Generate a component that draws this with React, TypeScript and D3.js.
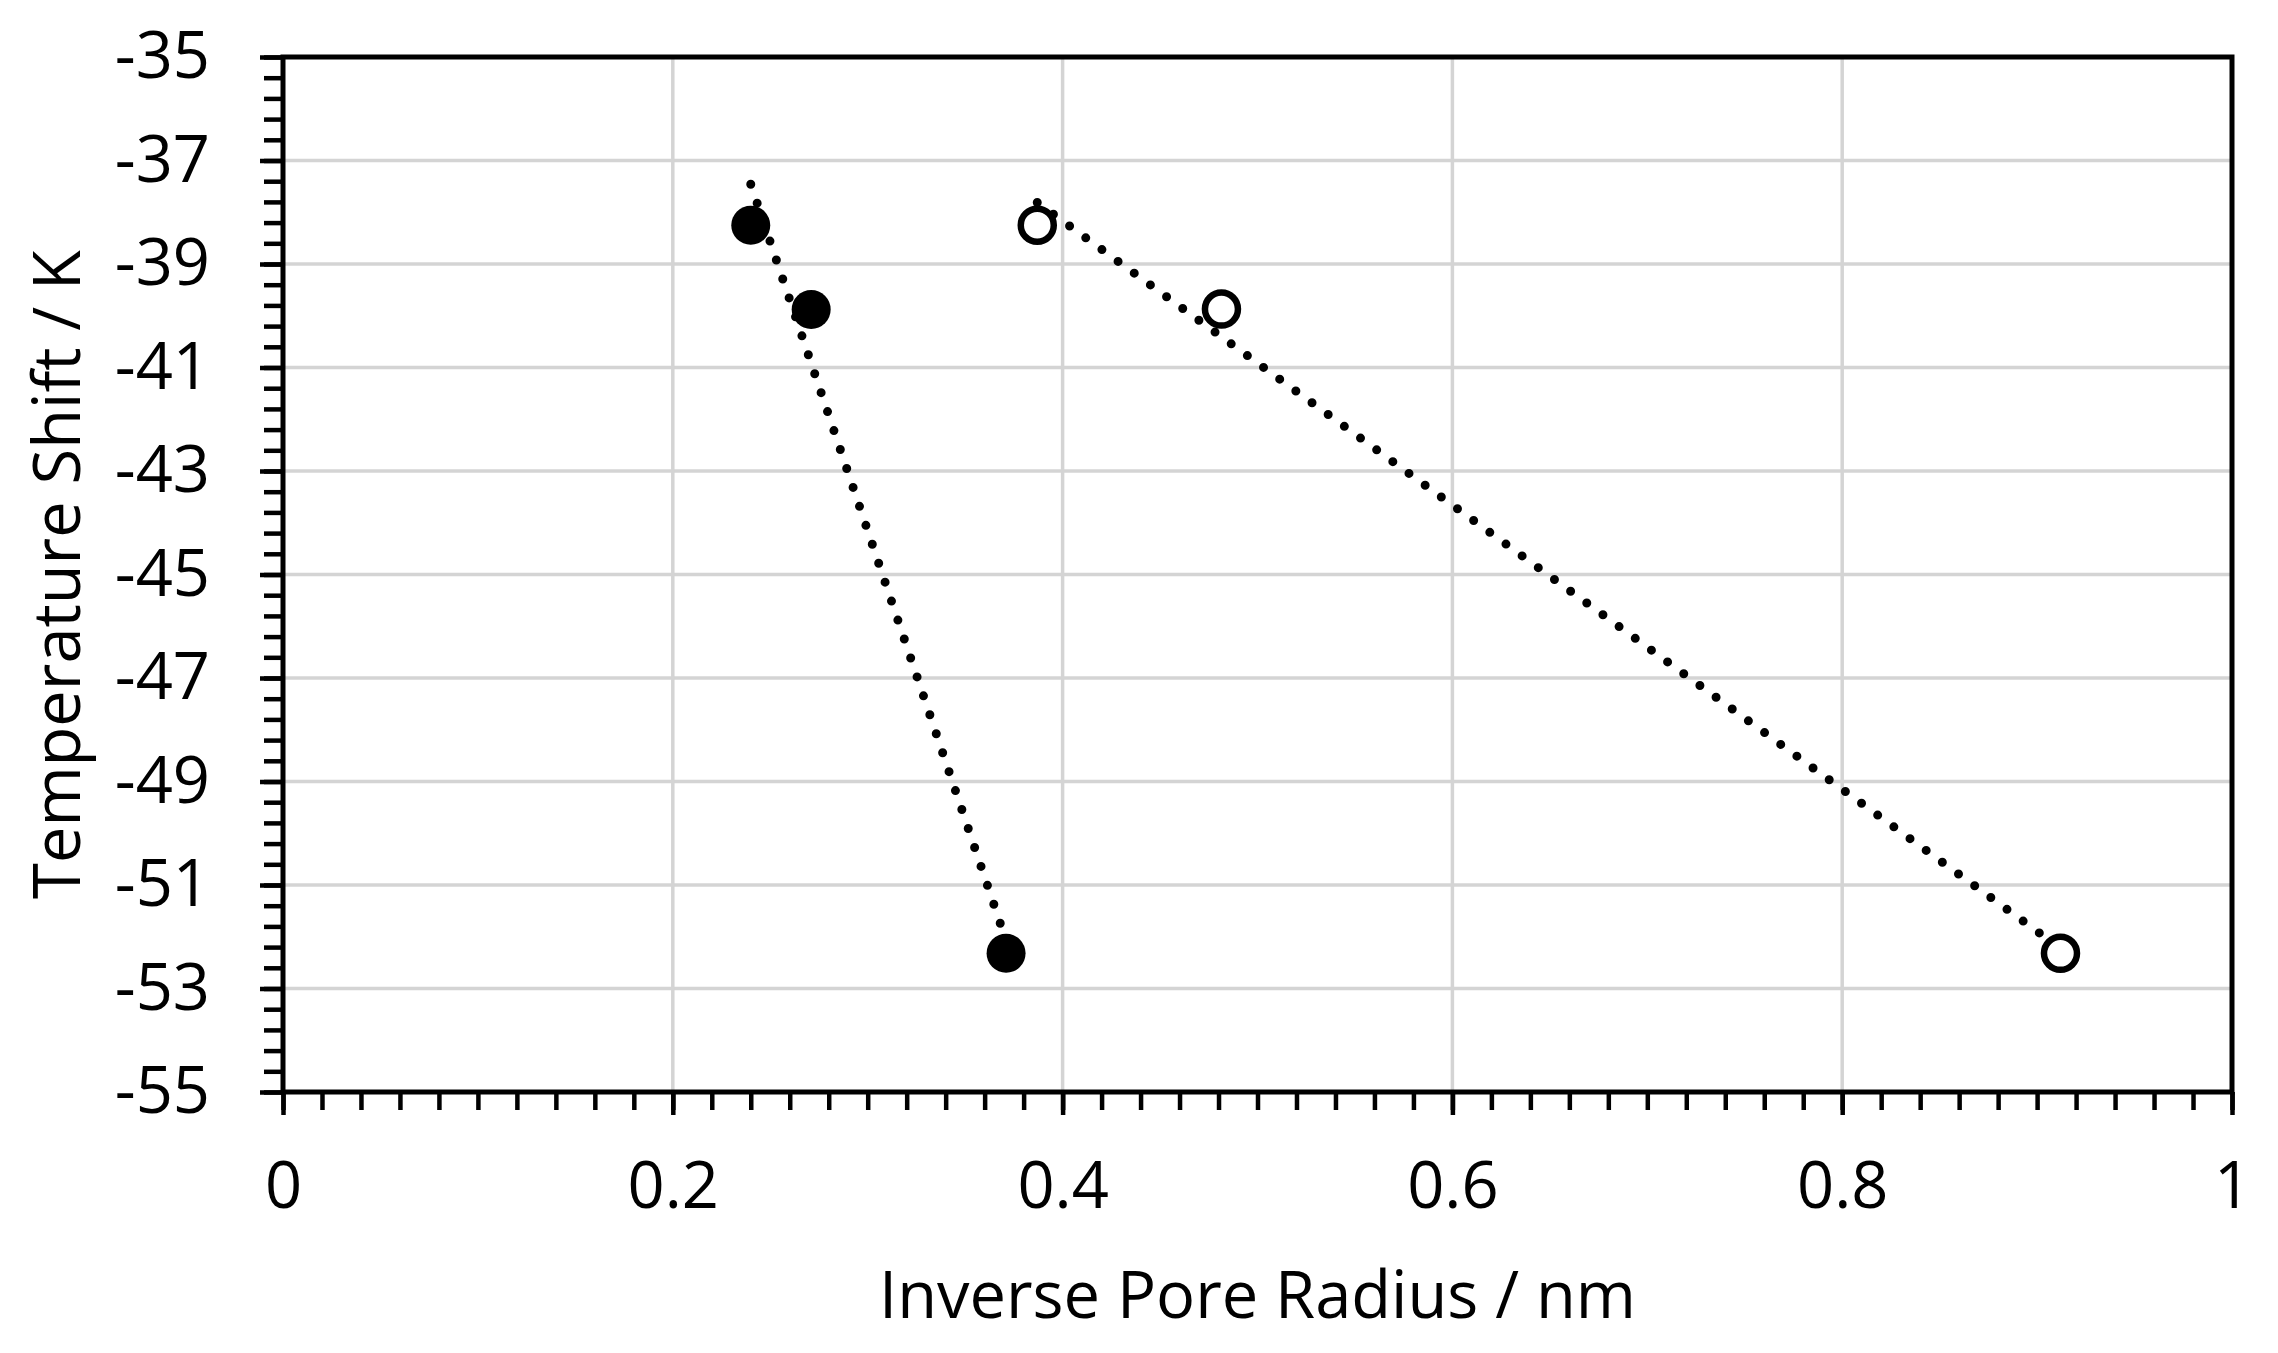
import React, { useRef, useEffect } from "react";
import * as d3 from "d3";

// measured points (inverse pore radius in 1/nm, temperature shift in K)
const filledX = [0.24, 0.271, 0.371];
const filledY = [-38.25, -39.88, -52.32];
const openX = [0.387, 0.4815, 0.912];
const openY = [-38.25, -39.87, -52.32];

const xTicks = [0, 0.2, 0.4, 0.6, 0.8, 1];
const yTicks = [-35, -37, -39, -41, -43, -45, -47, -49, -51, -53, -55];

const xTitle = "Inverse Pore Radius / nm";
const yTitle = "Temperature Shift / K";

// least squares fit, drawn over the range of the points
function fitLine(xs: number[], ys: number[]) {
    const mx = d3.mean(xs) as number;
    const my = d3.mean(ys) as number;
    let sxy = 0;
    let sxx = 0;
    xs.forEach((x, i) => {
        sxy += (x - mx) * (ys[i] - my);
        sxx += (x - mx) * (x - mx);
    });
    const slope = sxy / sxx;
    const x0 = d3.min(xs) as number;
    const x1 = d3.max(xs) as number;
    return [
        [x0, my + slope * (x0 - mx)],
        [x1, my + slope * (x1 - mx)],
    ];
}

const App: React.FC = () => {
    const svgRef = useRef<SVGSVGElement | null>(null);

    useEffect(() => {
        const width = 2278;
        const height = 1353;
        const left = 283;
        const right = 2232;
        const top = 57;
        const bottom = 1092;
        const font = "'Open Sans', 'Noto Sans', sans-serif";
        const fontSize = 65;

        const svg = d3.select(svgRef.current).attr("width", width).attr("height", height);
        svg.selectAll("*").remove();
        svg.append("rect").attr("width", width).attr("height", height).attr("fill", "#fff");

        const x = d3.scaleLinear().domain([0, 1]).range([left, right]);
        const y = d3.scaleLinear().domain([-55, -35]).range([bottom, top]);

        // gridlines
        const grid = svg.append("g").attr("stroke", "#d4d4d4").attr("stroke-width", 3.5);
        grid.selectAll("line.h")
            .data(yTicks.slice(1, -1))
            .enter()
            .append("line")
            .attr("x1", left)
            .attr("x2", right)
            .attr("y1", (d) => y(d))
            .attr("y2", (d) => y(d));
        grid.selectAll("line.v")
            .data(xTicks.slice(1, -1))
            .enter()
            .append("line")
            .attr("y1", top)
            .attr("y2", bottom)
            .attr("x1", (d) => x(d))
            .attr("x2", (d) => x(d));

        // dotted trend lines
        const line = d3
            .line<number[]>()
            .x((d) => x(d[0]))
            .y((d) => y(d[1]));
        [fitLine(filledX, filledY), fitLine(openX, openY)].forEach((pts) => {
            svg.append("path")
                .attr("d", line(pts))
                .attr("fill", "none")
                .attr("stroke", "#000")
                .attr("stroke-width", 9)
                .attr("stroke-linecap", "round")
                .attr("stroke-dasharray", "0 20");
        });

        // markers
        svg.selectAll("circle.filled")
            .data(filledX)
            .enter()
            .append("circle")
            .attr("cx", (d) => x(d))
            .attr("cy", (d, i) => y(filledY[i]))
            .attr("r", 19.5)
            .attr("fill", "#000");
        svg.selectAll("circle.open")
            .data(openX)
            .enter()
            .append("circle")
            .attr("cx", (d) => x(d))
            .attr("cy", (d, i) => y(openY[i]))
            .attr("r", 16.5)
            .attr("fill", "#fff")
            .attr("stroke", "#000")
            .attr("stroke-width", 6.5);

        // minor ticks
        const xMinor = d3.range(0, 51).map((i) => i * 0.02);
        const yMinor = d3.range(0, 51).map((i) => -55 + i * 0.4);
        svg.append("g")
            .attr("transform", `translate(0, ${bottom})`)
            .call(d3.axisBottom(x).tickValues(xMinor).tickSize(18).tickFormat(() => ""))
            .call((g) => g.select(".domain").remove())
            .call((g) => g.selectAll("line").attr("stroke-width", 4.5));
        svg.append("g")
            .attr("transform", `translate(${left}, 0)`)
            .call(d3.axisLeft(y).tickValues(yMinor).tickSize(19).tickFormat(() => ""))
            .call((g) => g.select(".domain").remove())
            .call((g) => g.selectAll("line").attr("stroke-width", 4.5));

        // major ticks with labels
        const xAxis = svg
            .append("g")
            .attr("transform", `translate(0, ${bottom})`)
            .call(d3.axisBottom(x).tickValues(xTicks).tickSize(23).tickPadding(47).tickFormat(d3.format("")));
        const yAxis = svg
            .append("g")
            .attr("transform", `translate(${left}, 0)`)
            .call(d3.axisLeft(y).tickValues(yTicks).tickSize(23).tickPadding(50).tickFormat(d3.format("")));
        [xAxis, yAxis].forEach((g) => {
            g.select(".domain").remove();
            g.selectAll("line").attr("stroke-width", 4.5);
            g.selectAll("text")
                .attr("font-family", font)
                .attr("font-size", fontSize)
                .attr("fill", "#000");
        });
        yAxis.selectAll("text").text((d: any) => String(d).replace("−", "-"));

        // plot frame
        svg.append("rect")
            .attr("x", left)
            .attr("y", top)
            .attr("width", right - left)
            .attr("height", bottom - top)
            .attr("fill", "none")
            .attr("stroke", "#000")
            .attr("stroke-width", 5);

        // axis titles
        svg.append("text")
            .attr("x", (left + right) / 2)
            .attr("y", 1318)
            .attr("text-anchor", "middle")
            .attr("font-family", font)
            .attr("font-size", fontSize)
            .text(xTitle);
        svg.append("text")
            .attr("transform", `translate(80, ${(top + bottom) / 2}) rotate(-90)`)
            .attr("text-anchor", "middle")
            .attr("font-family", font)
            .attr("font-size", fontSize)
            .text(yTitle);
    }, []);

    return <svg ref={svgRef} style={{ position: "absolute", left: 0, top: 0 }} />;
};

export default App;
